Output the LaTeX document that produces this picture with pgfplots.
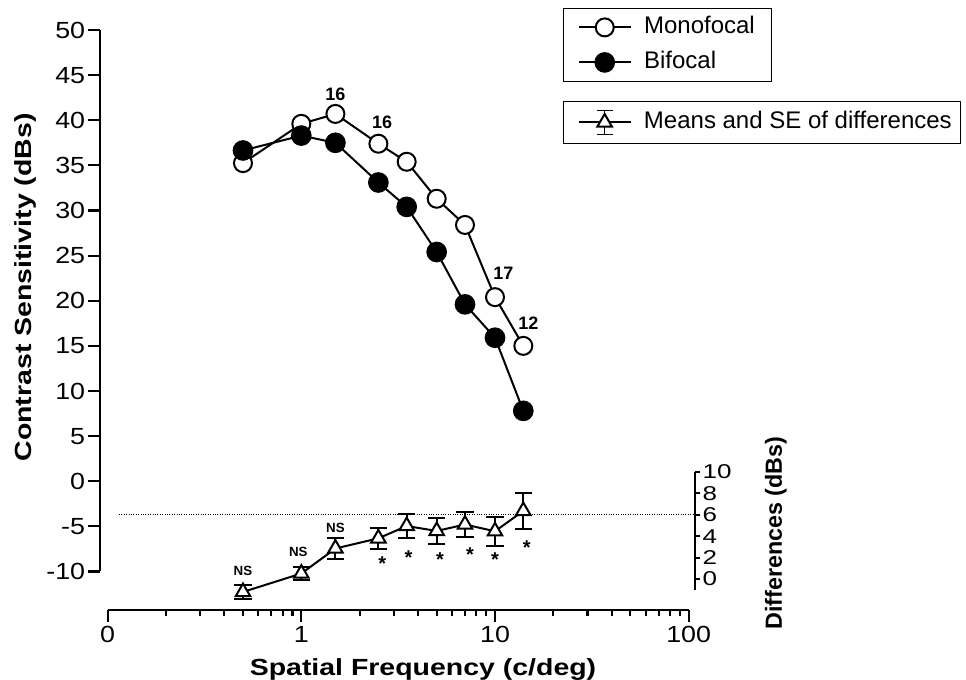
\documentclass[border=0pt]{standalone}
\usepackage{pgfplots}
\pgfplotsset{compat=1.18}
\usepackage{fontspec}
\setmainfont{Liberation Sans}
\newfontfamily\tickfont[FakeStretch=1.15]{Liberation Sans}
\newfontfamily\labfont[FakeStretch=1.22]{Liberation Sans}
\newfontfamily\rfont[FakeStretch=1.3]{Liberation Sans}
\begin{document}
\begin{tikzpicture}
\path[use as bounding box] (0,0) rectangle (724.5pt,510pt);
% ---------------- main axis (left y) ----------------
\begin{axis}[
  at={(75pt,81.375pt)}, anchor=south west,
  scale only axis, width=441.525pt, height=406.125pt,
  xmode=log, xmin=0.09136, xmax=100, ymin=-10, ymax=50,
  enlargelimits=false, clip=false,
  axis x line=none, axis y line=left,
  axis line style={-, line width=1.6pt},
  ytick={-10,-5,...,50},
  yticklabels={-10,-5,0,5,10,15,20,25,30,35,40,45,50},
  yticklabel style={font=\tickfont\fontsize{17.5}{20}\selectfont, inner xsep=2pt},
  tick align=outside, major tick length=9pt,
  every tick/.style={line width=1.6pt, black},
  ylabel={Contrast Sensitivity (dBs)},
  every axis y label/.style={font=\labfont\bfseries\fontsize{17.5}{20}\selectfont, at={(axis description cs:-0.1274,0.5245)}, anchor=center, rotate=90},
  legend style={at={(axis description cs:0.7865,1.0406)}, anchor=north west, draw=black, line width=0.6pt,
     font=\fontsize{18}{21}\selectfont, inner xsep=10.75pt, inner ysep=3.75pt, row sep=5.25pt,
     nodes={inner sep=2pt, text height=13pt, text depth=4pt},
     /tikz/every odd column/.append style={column sep=7.25pt}},
  legend cell align=left,
  legend image code/.code={\draw[mark repeat=2,mark phase=2,#1] plot coordinates {(0pt,0pt) (19.5pt,0pt) (39pt,0pt)};},
]
\addplot[black, line width=1.5pt, mark=*, mark size=6.75pt, mark options={fill=white, line width=1.5pt, solid}] coordinates {
(0.5,35.25) (1,39.6) (1.5,40.7) (2.5,37.4) (3.5,35.4) (5,31.3) (7,28.4) (10,20.4) (14,15.0)};
\addlegendentry{Monofocal}
\addplot[black, line width=1.5pt, mark=*, mark size=7pt, mark options={fill=black, solid}] coordinates {
(0.5,36.65) (1,38.3) (1.5,37.5) (2.5,33.1) (3.5,30.4) (5,25.4) (7,19.6) (10,15.9) (14,7.8)};
\addlegendentry{Bifocal}
\node[font=\bfseries\fontsize{13.5}{15}\selectfont] at (axis cs:1.5,42.86) {16};
\node[font=\bfseries\fontsize{13.5}{15}\selectfont, xshift=2.8pt] at (axis cs:2.5,39.79) {16};
\node[font=\bfseries\fontsize{13.5}{15}\selectfont, xshift=6.2pt] at (axis cs:10,23.07) {17};
\node[font=\bfseries\fontsize{13.5}{15}\selectfont, xshift=3.75pt] at (axis cs:14,17.46) {12};
\end{axis}
% ---------------- x axis (detached) ----------------
\begin{axis}[
  at={(80.775pt,52.5pt)}, anchor=south west,
  scale only axis, width=435.75pt, height=1pt,
  xmode=log, xmin=0.1, xmax=100, ymin=0, ymax=1,
  enlargelimits=false,
  axis x line=bottom, axis y line=none,
  axis line style={-, line width=1.6pt},
  xtick={0.1,1,10,100}, xticklabels={0,1,10,100},
  minor xtick={0.2,0.3,0.4,0.5,0.6,0.7,0.8,0.9,2,3,4,5,6,7,8,9,20,30,40,50,60,70,80,90},
  xticklabel style={font=\tickfont\fontsize{17.5}{20}\selectfont},
  tick align=outside, major tick length=9pt, minor tick length=4.5pt,
  every tick/.style={line width=1.6pt, black},
  xlabel={Spatial Frequency (c/deg)},
  every axis x label/.style={font=\labfont\bfseries\fontsize{17.5}{20}\selectfont, at={(axis description cs:0.5427,0)}, anchor=base, yshift=-49.5pt},
]
\end{axis}
% ---------------- differences axis (right y) ----------------
\begin{axis}[
  at={(75pt,67.725pt)}, anchor=south west,
  scale only axis, width=446.25pt, height=88.275pt,
  xmode=log, xmin=0.09136, xmax=107.77, ymin=-1, ymax=10,
  enlargelimits=false, clip=false,
  axis x line=none, axis y line=right,
  axis line style={-, line width=1.6pt},
  ytick={0,2,4,6,8,10}, yticklabels={0,2,4,6,8,10},
  yticklabel style={font=\rfont\fontsize{15}{16}\selectfont, inner xsep=1.5pt},
  tick align=outside, major tick length=4pt,
  every tick/.style={line width=1.6pt, black},
  ylabel={Differences (dBs)},
  every axis y label/.style={font=\bfseries\fontsize{17.5}{20}\selectfont, at={(axis description cs:1.136,0.4817)}, anchor=center, rotate=90},
  legend style={at={(axis description cs:0.778,4.152)}, anchor=north west, draw=black, line width=0.6pt,
     font=\fontsize{18}{21}\selectfont, inner xsep=10.75pt, inner ysep=5.25pt,
     nodes={inner sep=2pt, text height=13pt, text depth=4pt},
     /tikz/every odd column/.append style={column sep=7.25pt}},
  legend cell align=left,
  legend image code/.code={
     \draw[line width=0.8pt] (19.5pt,-9pt) -- (19.5pt,9pt) (13.5pt,9pt) -- (25.5pt,9pt) (13.5pt,-9pt) -- (25.5pt,-9pt);
     \draw[mark repeat=2,mark phase=2,#1] plot coordinates {(0pt,0pt) (19.5pt,0pt) (39pt,0pt)};},
]
\addplot[densely dotted, line width=0.8pt, black, forget plot] coordinates {(0.1145,6) (107.77,6)};
\addplot[black, line width=1.5pt, mark=triangle*, mark size=6.3pt, mark options={fill=white, line width=1.5pt, solid},
  error bars/.cd, y dir=both, y explicit, error bar style={line width=1.5pt, black},
  error mark options={mark size=6.5pt, line width=1.5pt, black, rotate=90}]
 coordinates {
(0.5,-1.21) +- (0,0.65)
(1,0.51) +- (0,0.61)
(1.5,2.85) +- (0,0.98)
(2.5,3.8) +- (0,1.0)
(3.5,4.95) +- (0,1.14)
(5,4.49) +- (0,1.2)
(7,5.09) +- (0,1.14)
(10,4.46) +- (0,1.37)
(14,6.36) +- (0,1.67)};
\addlegendentry{Means and SE of differences\hspace*{-6pt}}
\node[font=\bfseries\fontsize{10}{12}\selectfont] at (axis cs:0.5,0.78) {NS};
\node[font=\bfseries\fontsize{10}{12}\selectfont, xshift=-2.25pt] at (axis cs:1,2.55) {NS};
\node[font=\bfseries\fontsize{10}{12}\selectfont] at (axis cs:1.5,4.74) {NS};
\node[font=\bfseries\fontsize{15}{16}\selectfont, xshift=3pt, yshift=-3pt] at (axis cs:2.5,1.78) {*};
\node[font=\bfseries\fontsize{15}{16}\selectfont, xshift=1.3pt, yshift=-3pt] at (axis cs:3.5,2.41) {*};
\node[font=\bfseries\fontsize{15}{16}\selectfont, xshift=2.5pt, yshift=-3pt] at (axis cs:5,2.15) {*};
\node[font=\bfseries\fontsize{15}{16}\selectfont, xshift=3.75pt, yshift=-3pt] at (axis cs:7,2.64) {*};
\node[font=\bfseries\fontsize{15}{16}\selectfont, yshift=-3pt] at (axis cs:10,2.15) {*};
\node[font=\bfseries\fontsize{15}{16}\selectfont, xshift=2.5pt, yshift=-3pt] at (axis cs:14,3.27) {*};
\end{axis}
\end{tikzpicture}
\end{document}
